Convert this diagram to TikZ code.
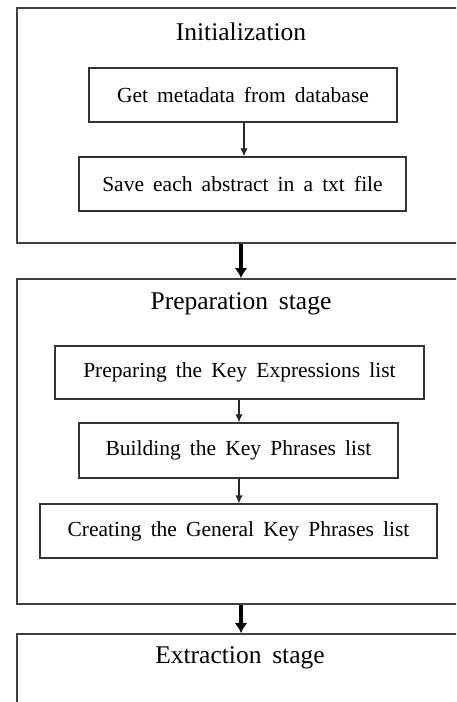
\documentclass[tikz,border=0pt]{standalone}
\usepackage{fontspec}
\setmainfont{Liberation Serif}[WordSpace=1.7]
\usetikzlibrary{arrows.meta}

\tikzset{
  stagebox/.style={draw=black!75,line width=1.7pt,anchor=north west,minimum width=450pt,inner sep=0pt},
  stagetitle/.style={font=\fontsize{25.5}{28}\selectfont},
  stepbox/.style={draw=black!80,line width=1.4pt,minimum height=54pt,inner sep=0pt,font=\fontsize{21.5}{25}\selectfont},
  thinarrow/.style={draw=black!85,line width=1.1pt,-{Latex[length=8pt,width=7.5pt]}},
  thickarrow/.style={draw=black,line width=3.5pt,-{Latex[length=10pt,width=13pt]}}
}

\begin{document}
\begin{tikzpicture}[x=1pt,y=-1pt]
\useasboundingbox (0,0) rectangle (456,702);
\clip (0,0) rectangle (456,702);

% Stages
\node[stagebox,minimum height=235pt] (init) at (16,7) {};
\node[stagebox,minimum height=325pt] (prep) at (16,278) {};
\node[stagebox,minimum height=120pt] (extr) at (16,633) {};

\node[stagetitle] (inittitle) at (241,32) {Initialization};
\node[stagetitle] (preptitle) at (241,304) {Preparation stage};
\node[stagetitle] (extrtitle) at (240,658) {Extraction stage};

% Steps of the initialization
\node[stepbox,minimum width=308pt] (getmeta) at (243,95) {Get metadata from database};
\node[stepbox,minimum width=327pt] (saveabs) at (242.5,184) {Save each abstract in a txt file};

% Steps of the preparation
\node[stepbox,minimum width=369pt,minimum height=53pt] (keyexpr) at (239.5,372.5) {Preparing the Key Expressions list};
\node[stepbox,minimum width=319pt,minimum height=55pt] (keyphr) at (238.5,450.5) {Building the Key Phrases list};
\node[stepbox,minimum width=397pt] (genphr) at (238.5,531) {Creating the General Key Phrases list};

% Arrows
\draw[thinarrow] (getmeta.south -| 244,0) -- (saveabs.north -| 244,0);
\draw[thinarrow] (keyexpr.south -| 239,0) -- (keyphr.north -| 239,0);
\draw[thinarrow] (keyphr.south -| 239,0) -- (genphr.north -| 239,0);
\draw[thickarrow] (init.south -| 241,0) -- (prep.north -| 241,0);
\draw[thickarrow] (prep.south -| 241,0) -- (extr.north -| 241,0);
\end{tikzpicture}
\end{document}
